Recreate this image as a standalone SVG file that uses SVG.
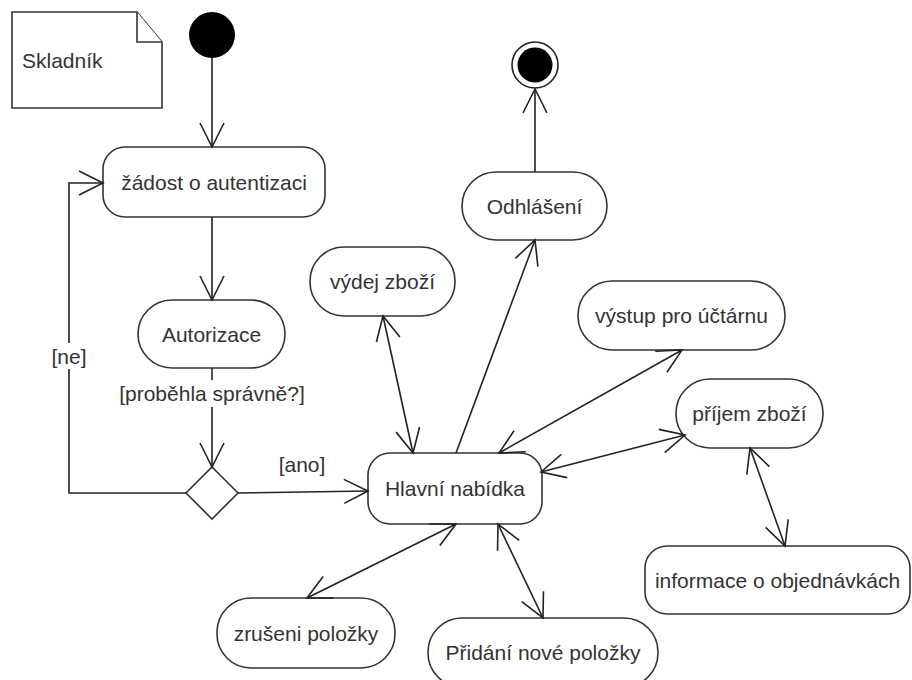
<svg xmlns="http://www.w3.org/2000/svg" width="912" height="680" viewBox="0 0 912 680">
<style>
  .box { fill: #ffffff; stroke: #333333; stroke-width: 1.6; }
  .lbl { font-family: "Liberation Sans", Arial, sans-serif; font-size: 21px; fill: #333333; text-anchor: middle; dominant-baseline: central; }
  .edge { fill: none; stroke: #222222; stroke-width: 1.6; }
</style>
<defs>
  <marker id="arr" markerUnits="userSpaceOnUse" viewBox="-26 -14 28 28" markerWidth="28" markerHeight="28" refX="0" refY="0" orient="auto-start-reverse">
    <path d="M-24,-12 L0,0 L-24,12" fill="none" stroke="#222222" stroke-width="1.6"/>
  </marker>
</defs>

<g id="note">
  <path class="box" d="M12 12 H137 L162 42 V108 H12 Z"/>
  <path class="box" fill="none" d="M137 12 V42 H162"/>
  <text class="lbl" x="22" y="60" style="text-anchor:start">Skladník</text>
</g>

<g id="start">
  <circle cx="212" cy="35" r="23" fill="#000000"/>
</g>

<g id="end">
  <circle cx="535" cy="65" r="23" fill="#ffffff" stroke="#222222" stroke-width="1.6"/>
  <circle cx="535" cy="65" r="17.5" fill="#000000"/>
</g>

<g id="zadost">
  <rect class="box" x="103" y="147" width="222" height="70" rx="22" ry="22"/>
  <text class="lbl" x="214" y="182">žádost o autentizaci</text>
</g>

<g id="autorizace">
  <rect class="box" x="138" y="300" width="147" height="68" rx="34" ry="34"/>
  <text class="lbl" x="211.5" y="334">Autorizace</text>
</g>

<g id="decision">
  <path class="box" d="M212 467 L238 493 L212 519 L186 493 Z"/>
</g>

<g id="hlavni">
  <rect class="box" x="368" y="453" width="174" height="71" rx="22" ry="22"/>
  <text class="lbl" x="455" y="488.5">Hlavní nabídka</text>
</g>

<g id="vydej">
  <rect class="box" x="310" y="247" width="145" height="69" rx="34" ry="34"/>
  <text class="lbl" x="382.5" y="281.5">výdej zboží</text>
</g>

<g id="odhlaseni">
  <rect class="box" x="462" y="172" width="145" height="68" rx="34" ry="34"/>
  <text class="lbl" x="534.5" y="206">Odhlášení</text>
</g>

<g id="vystup">
  <rect class="box" x="578" y="281" width="207" height="69" rx="34" ry="34"/>
  <text class="lbl" x="681.5" y="315.5">výstup pro účtárnu</text>
</g>

<g id="prijem">
  <rect class="box" x="676" y="379" width="147" height="69" rx="34" ry="34"/>
  <text class="lbl" x="749.5" y="413.5">příjem zboží</text>
</g>

<g id="informace">
  <rect class="box" x="645" y="546" width="265" height="68" rx="22" ry="22"/>
  <text class="lbl" x="777.5" y="580">informace o objednávkách</text>
</g>

<g id="zruseni">
  <rect class="box" x="217" y="598" width="178" height="70" rx="34" ry="34"/>
  <text class="lbl" x="306" y="633">zrušeni položky</text>
</g>

<g id="pridani">
  <rect class="box" x="428" y="618" width="230" height="69" rx="34" ry="34"/>
  <text class="lbl" x="543" y="652.5">Přidání nové položky</text>
</g>

<g id="connectors">
  <line class="edge" x1="212" y1="58" x2="212" y2="147" marker-end="url(#arr)"/>
  <line class="edge" x1="212" y1="217" x2="212" y2="300" marker-end="url(#arr)"/>
  <line class="edge" x1="212" y1="368" x2="212" y2="380"/>
  <line class="edge" x1="212" y1="407" x2="212" y2="467" marker-end="url(#arr)"/>
  <text class="lbl" x="212" y="393">[proběhla správně?]</text>
  <line class="edge" x1="238" y1="493" x2="368" y2="491" marker-end="url(#arr)"/>
  <text class="lbl" x="302" y="464">[ano]</text>
  <polyline class="edge" points="186,493 69,493 69,369"/>
  <polyline class="edge" points="69,343 69,183 103,183" marker-end="url(#arr)"/>
  <text class="lbl" x="69" y="356">[ne]</text>
  <line class="edge" x1="413" y1="453" x2="383" y2="316" marker-start="url(#arr)" marker-end="url(#arr)"/>
  <line class="edge" x1="456" y1="453" x2="535" y2="240" marker-end="url(#arr)"/>
  <line class="edge" x1="535" y1="172" x2="535" y2="89" marker-end="url(#arr)"/>
  <line class="edge" x1="499" y1="453" x2="682" y2="350" marker-start="url(#arr)" marker-end="url(#arr)"/>
  <line class="edge" x1="541" y1="472" x2="685" y2="435" marker-start="url(#arr)" marker-end="url(#arr)"/>
  <line class="edge" x1="750" y1="448" x2="785" y2="546" marker-start="url(#arr)" marker-end="url(#arr)"/>
  <line class="edge" x1="456" y1="524" x2="307" y2="598" marker-start="url(#arr)" marker-end="url(#arr)"/>
  <line class="edge" x1="498" y1="524" x2="543" y2="618" marker-start="url(#arr)" marker-end="url(#arr)"/>
</g>
</svg>
